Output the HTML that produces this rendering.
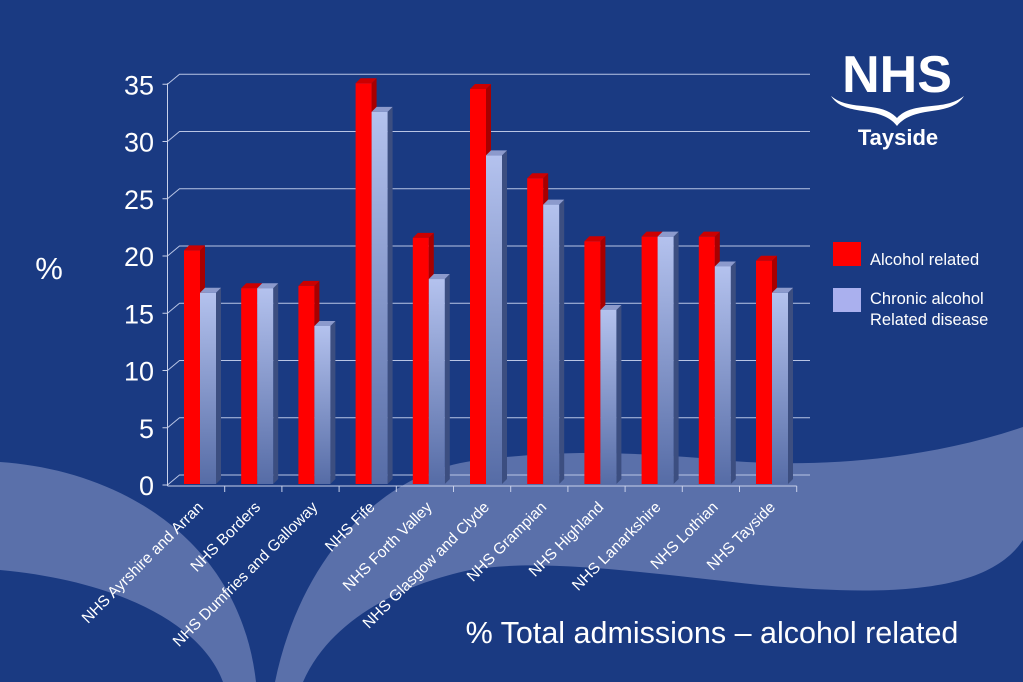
<!DOCTYPE html>
<html><head><meta charset="utf-8"><style>
html,body{margin:0;padding:0;width:1023px;height:682px;overflow:hidden;background:#1a3a82;}
svg{display:block;font-family:"Liberation Sans",Arial,sans-serif;}
</style></head><body>
<svg id="chart" width="1023" height="682" viewBox="0 0 1023 682" xmlns="http://www.w3.org/2000/svg">
<defs>
<linearGradient id="gb" x1="0" y1="0" x2="0" y2="1"><stop offset="0" stop-color="#b4c2ee"/><stop offset="1" stop-color="#566ca6"/></linearGradient>
</defs>
<rect width="1023" height="682" fill="#1a3a82"/>
<path fill="#5a70aa" d="M0,462 C120,470 240,540 256,682 L223,682 C200,620 110,580 0,570 Z"/>
<path fill="#5a70aa" d="M275,682 C300,560 380,470 480,460 C560,450 620,452 700,458 C800,470 920,462 1023,427 L1023,540 C990,590 900,598 760,585 C640,572 540,558 470,570 C400,585 330,620 303,682 Z"/>
<g id="grid"></g>
<g id="bars"></g>
<g id="axes"></g>
<text x="49" y="279" font-size="31" fill="#fff" text-anchor="middle">%</text>
<text x="712" y="643" font-size="30.5" fill="#fff" text-anchor="middle">% Total admissions – alcohol related</text>
<g>
<rect x="833" y="242" width="28" height="24" fill="#ff0000"/>
<text x="870" y="265" font-size="16.5" fill="#fff">Alcohol related</text>
<rect x="833" y="288" width="28" height="24" fill="#aab0ee"/>
<text x="870" y="304" font-size="16.5" fill="#fff">Chronic alcohol</text>
<text x="870" y="325" font-size="16.5" fill="#fff">Related disease</text>
</g>
<g>
<text x="897" y="92" font-size="52" font-weight="bold" fill="#fff" text-anchor="middle">NHS</text>
<path d="M831,96 C850,112 880,100 897,118 C914,100 944,112 964,96 C950,118 915,104 897,126 C880,104 845,118 831,96 Z" fill="#fff"/>
<text x="898" y="145" font-size="22" font-weight="bold" fill="#fff" text-anchor="middle">Tayside</text>
</g>
</svg>
<script>
const categories=["NHS Ayrshire and Arran","NHS Borders","NHS Dumfries and Galloway","NHS Fife","NHS Forth Valley","NHS Glasgow and Clyde","NHS Grampian","NHS Highland","NHS Lanarkshire","NHS Lothian","NHS Tayside"];
const alcoholRelated=[20.4,17.1,17.3,35.0,21.5,34.5,26.7,21.2,21.6,21.6,19.5];
const chronicDisease=[16.7,17.1,13.8,32.5,17.9,28.7,24.4,15.2,21.6,19.0,16.7];
const yTicks=[0,5,10,15,20,25,30,35];
const NS="http://www.w3.org/2000/svg";
const y0=484, ppu=11.45, x0=167.5, step=57.2, dx=12, dy=10;
function yPos(v){return y0-v*ppu;}
function xPos(i){return x0+step*i;}
function mk(tag,attrs,parent){const e=document.createElementNS(NS,tag);for(const k in attrs)e.setAttribute(k,attrs[k]);parent.appendChild(e);return e;}
const grid=document.getElementById('grid'),bars=document.getElementById('bars'),axes=document.getElementById('axes');
yTicks.forEach(t=>{
  const y=yPos(t)+1;
  const g=mk('path',{d:`M${x0},${y} L${x0+dx},${y-dy} L810,${y-dy}`,stroke:'#b8c4e4','stroke-width':1,fill:'none'},grid);
  
  
  const tl=mk('text',{x:154,y:y+10,'font-size':27,fill:'#fff','text-anchor':'end',textLength:t>=10?30:15,lengthAdjust:'spacingAndGlyphs'},axes);
  tl.textContent=t;
  
  
  const tk=mk('line',{x1:x0-5,y1:y,x2:x0,y2:y,stroke:'#c8d0ea'},axes);
  
  
});
const ax=mk('line',{x1:x0,y1:yPos(35),x2:x0,y2:y0+2,stroke:'#c8d0ea'},axes);


const bx=mk('line',{x1:x0,y1:y0+2,x2:xPos(categories.length),y2:y0+2,stroke:'#c8d0ea'},axes);


function bar(x,v,front,side,top,name){
  const yt=yPos(v),w=16,d=5;
  const g=mk('g',{},bars);
  
  
  mk('polygon',{points:`${x+w},${yt} ${x+w+d},${yt-d} ${x+w+d},${y0-d} ${x+w},${y0}`,fill:side},g);
  mk('polygon',{points:`${x},${yt} ${x+d},${yt-d} ${x+w+d},${yt-d} ${x+w},${yt}`,fill:top},g);
  mk('rect',{x:x,y:yt,width:w,height:y0-yt,fill:front},g);
}
categories.forEach((c,i)=>{
  const bxp=xPos(i)+16.5;
  bar(bxp,alcoholRelated[i],'#ff0000','#a80000','#cc0000','bar-alcohol-'+i);
  bar(bxp+16,chronicDisease[i],'url(#gb)','#3c4e80','#8c9acc','bar-chronic-'+i);
  const tk=mk('line',{x1:xPos(i+1),y1:y0+2,x2:xPos(i+1),y2:y0+8,stroke:'#c8d0ea'},axes);
  
  
  const cx=xPos(i)+step/2+8, cy=508;
  const lb=mk('text',{x:cx,y:cy,'font-size':15.5,fill:'#fff','text-anchor':'end',transform:`rotate(-45 ${cx} ${cy})`},axes);
  lb.textContent=c;
  
  
});
</script>
</body></html>
